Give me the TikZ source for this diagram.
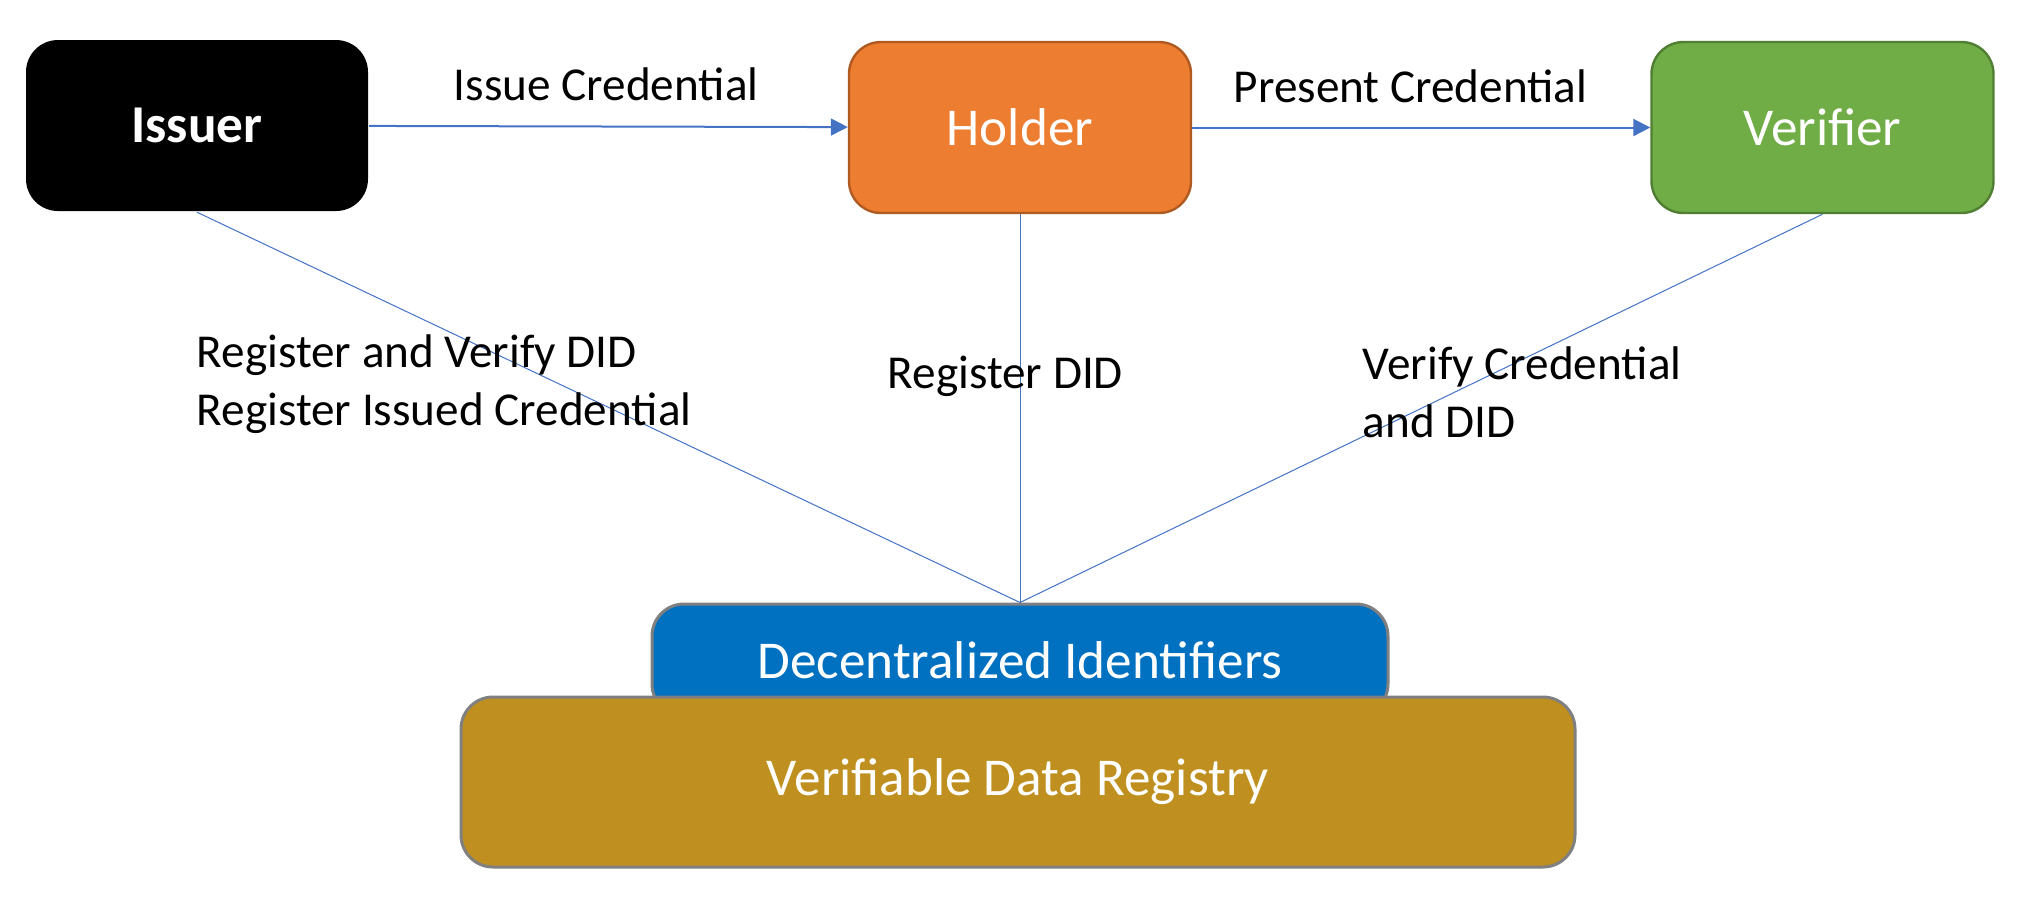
\documentclass[tikz,border=0pt]{standalone}
\usepackage{fontspec}
\setmainfont{Carlito}
\usetikzlibrary{arrows.meta}

\definecolor{holderfill}{HTML}{ED7D31}
\definecolor{holderline}{HTML}{AE5A21}
\definecolor{verifierfill}{HTML}{70AD47}
\definecolor{verifierline}{HTML}{507E32}
\definecolor{didfill}{HTML}{0070C0}
\definecolor{registryfill}{HTML}{BF901F}
\definecolor{flowblue}{HTML}{4472C4}

\tikzset{
  party/.style={rectangle, rounded corners=8pt, minimum width=85.5pt, minimum height=42.75pt,
    text=white, line width=0.6pt, font=\fontsize{13.3}{16}\selectfont},
  layer/.style={rectangle, rounded corners=8pt, draw=black!50, line width=0.75pt,
    text=white, font=\fontsize{13.3}{16}\selectfont},
  flow/.style={draw=flowblue, line width=0.5pt, -{Triangle[length=4.25pt,width=4.25pt]}},
  link/.style={draw=flowblue, line width=0.25pt},
  lbl/.style={inner sep=0pt, align=left, font=\fontsize{11.8}{14.4}\selectfont}
}

\begin{document}
\begin{tikzpicture}[x=0.25pt, y=-0.25pt]

    % Canvas
    \useasboundingbox (0,0) rectangle (2038,904);

    % Nodes
    \node[party, fill=black, font=\fontsize{13.3}{16}\selectfont\bfseries] (issuer) at (197,125.5) {Issuer}; % issuer
    \node[party, fill=holderfill, draw=holderline] (holder) at (1020,127.5) {Holder}; % holder
    \node[party, fill=verifierfill, draw=verifierline] (verifier) at (1822.5,127.5) {Verifier}; % verifier
    \node[layer, fill=didfill, minimum width=184pt, minimum height=28pt] (did) at (1020,660) {Decentralized Identifiers}; % DID layer
    \node[layer, fill=registryfill, minimum width=278.5pt, minimum height=42.5pt] (registry) at (1018,782) {Verifiable Data Registry}; % registry

    % Edge
    \draw[flow] (issuer) -- (holder); % issue credential
    \draw[flow] (holder) -- (verifier); % present credential
    \draw[link] (issuer.south) -- (did.north); % issuer to DIDs
    \draw[link] (holder.south) -- (did.north); % holder to DIDs
    \draw[link] (verifier.south) -- (did.north); % verifier to DIDs

    % Labels (base = last line)
    \node[lbl, anchor=base west] (issuelbl) at (453,100) {Issue Credential};
    \node[lbl, anchor=base west] (presentlbl) at (1233,102) {Present Credential};
    \node[lbl, anchor=base west] (issuerlbl) at (196,425) {Register and Verify DID\\Register Issued Credential};
    \node[lbl, anchor=base west] (holderlbl) at (887,388) {Register DID};
    \node[lbl, anchor=base west] (verifierlbl) at (1362,437) {Verify Credential\\and DID};

\end{tikzpicture}
\end{document}
